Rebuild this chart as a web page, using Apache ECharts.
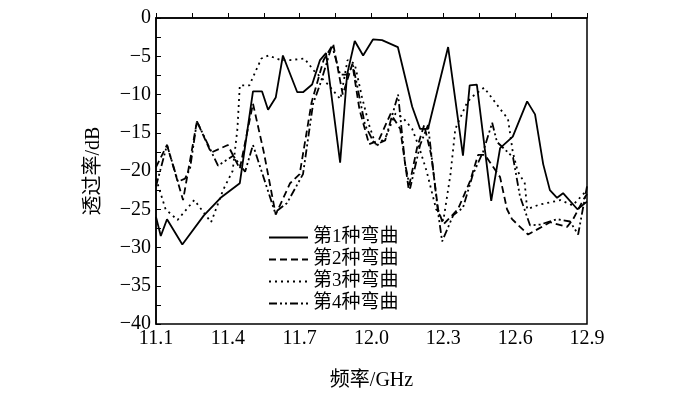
<!DOCTYPE html>
<html>
<head>
<meta charset="utf-8">
<title>透过率</title>
<script src="https://cdn.jsdelivr.net/npm/echarts@6/dist/echarts.min.js"></script>
<style>
  html, body { margin: 0; padding: 0; background: #fff; }
  #main { width: 700px; height: 396px; }
</style>
</head>
<body>
<div id="main"></div>
<script>
// 各曲线的频率点 (GHz) 与透过率 (dB)
var names = ['第1种弯曲', '第2种弯曲', '第3种弯曲', '第4种弯曲'];

var freq1 = [11.10, 11.12, 11.146, 11.21, 11.30, 11.37, 11.45, 11.505, 11.543, 11.568, 11.60, 11.63, 11.69, 11.714,
  11.752, 11.785, 11.81, 11.869, 11.898, 11.93, 11.965, 12.006, 12.044, 12.11, 12.17, 12.203, 12.236, 12.32, 12.382,
  12.41, 12.44, 12.50, 12.537, 12.59, 12.65, 12.683, 12.717, 12.745, 12.775, 12.80, 12.86, 12.90];
var db1 = [-26, -28.5, -26.3, -29.6, -25.8, -23.5, -21.6, -9.6, -9.6, -12, -10.4, -4.9, -9.7, -9.7,
  -8.7, -5.5, -4.6, -18.9, -7.4, -3, -4.9, -2.8, -2.9, -3.8, -11.6, -14.5, -14.5, -3.8, -18,
  -8.8, -8.7, -23.9, -17, -15.5, -10.9, -12.6, -19.1, -22.5, -23.5, -22.9, -25, -24];

var freq2 = [11.10, 11.146, 11.213, 11.271, 11.33, 11.40, 11.45, 11.505, 11.55, 11.60, 11.66, 11.70, 11.75, 11.80,
  11.84, 11.88, 11.92, 11.95, 11.99, 12.03, 12.08, 12.12, 12.155, 12.19, 12.22, 12.25, 12.278, 12.30, 12.361,
  12.412, 12.445, 12.474, 12.537, 12.566, 12.587, 12.654, 12.70, 12.746, 12.817, 12.842, 12.884, 12.90];
var db2 = [-19.5, -16.6, -23.8, -13.5, -17.6, -16.6, -19.7, -11.2, -17.5, -25.7, -21.6, -20.4, -11, -5.5,
  -3.4, -10, -6, -12, -16.5, -16, -12.5, -14.5, -22.3, -17, -14, -18, -25, -27, -25,
  -21.3, -17.9, -17.9, -20.8, -25, -26.3, -28.3, -27.5, -26.7, -27.3, -26.3, -23.8, -23];

var freq3 = [11.10, 11.14, 11.19, 11.26, 11.33, 11.38, 11.42, 11.44, 11.45, 11.49, 11.54, 11.57, 11.62, 11.66,
  11.72, 11.76, 11.81, 11.87, 11.90, 11.93, 11.96, 11.99, 12.02, 12.06, 12.10, 12.13, 12.17, 12.20, 12.23,
  12.27, 12.30, 12.33, 12.35, 12.40, 12.42, 12.47, 12.54, 12.57, 12.59, 12.61, 12.64, 12.65, 12.70, 12.79,
  12.84, 12.90];
var db3 = [-21, -25, -26.4, -23.8, -26.7, -22.5, -20, -14.5, -8.8, -8.8, -5.3, -4.9, -5.5, -5.5,
  -5.3, -6.9, -8.4, -10.6, -5.5, -6, -10.3, -14, -16.8, -15.5, -12.5, -13, -14.5, -17, -20,
  -25, -26.5, -20.4, -14.5, -11, -10.3, -9.1, -12, -13.2, -17.5, -20, -21.6, -25, -24.4, -23.8,
  -24.5, -22.5];

var freq4 = [11.10, 11.146, 11.192, 11.221, 11.242, 11.271, 11.359, 11.422, 11.472, 11.505, 11.597, 11.647, 11.714,
  11.756, 11.785, 11.835, 11.869, 11.898, 11.923, 11.973, 12.015, 12.057, 12.111, 12.14, 12.161, 12.203, 12.236,
  12.278, 12.295, 12.341, 12.382, 12.424, 12.466, 12.504, 12.524, 12.591, 12.62, 12.662, 12.704, 12.775, 12.829,
  12.863, 12.90];
var db4 = [-22, -16.6, -21.4, -21, -19.7, -13.5, -19.3, -18, -20.1, -16.6, -25.4, -24.2, -20.4,
  -11.2, -8.7, -3.6, -7.4, -7.4, -6.2, -14, -16.6, -16, -10, -19, -22.3, -16.6, -14,
  -25.4, -29.2, -25.8, -24.8, -20.4, -17.5, -13.7, -16.2, -18.2, -23.3, -27.1, -27, -26.3, -26.6,
  -28.3, -22];

function pairs(xs, ys) {
  var out = [];
  for (var i = 0; i < xs.length; i++) out.push([xs[i], ys[i]]);
  return out;
}

var fontFam = '"Liberation Serif", "Noto Sans CJK SC", serif';
var lineTypes = ['solid', [7, 4], [2, 4], [8, 3, 2, 3, 2, 3]];
var allData = [pairs(freq1, db1), pairs(freq2, db2), pairs(freq3, db3), pairs(freq4, db4)];

var chart = echarts.init(document.getElementById('main'));

var series = [];
for (var k = 0; k < 4; k++) {
  series.push({
    name: names[k],
    type: 'line',
    symbol: 'none',
    data: allData[k],
    lineStyle: { color: '#000', width: 1.8, type: lineTypes[k] },
    itemStyle: { color: '#000' }
  });
}

chart.setOption({
  animation: false,
  backgroundColor: '#fff',
  grid: {
    left: 156, right: 113, top: 18, bottom: 60,
    show: true, borderColor: '#000', borderWidth: 1.5, backgroundColor: 'transparent'
  },
  legend: {
    orient: 'vertical',
    left: 268, top: 228,
    padding: 0,
    itemGap: 3,
    itemWidth: 39,
    itemHeight: 14,
    itemStyle: { opacity: 0 },
    textStyle: { fontFamily: fontFam, fontSize: 19, color: '#000' },
    data: names
  },
  xAxis: {
    type: 'value',
    min: 11.1, max: 12.9, interval: 0.3,
    name: '频率/GHz',
    nameLocation: 'middle',
    nameGap: 47,
    nameTextStyle: { fontFamily: fontFam, fontSize: 20, color: '#000' },
    axisLine: { lineStyle: { color: '#000', width: 1.5 } },
    axisTick: { inside: true, length: 5, lineStyle: { color: '#000' } },
    minorTick: { show: true, splitNumber: 2, length: 5, lineStyle: { color: '#000' } },
    splitLine: { show: false },
    axisLabel: {
      margin: 5, fontFamily: fontFam, fontSize: 20, color: '#000',
      formatter: function (v) { return v.toFixed(1); }
    }
  },
  yAxis: {
    type: 'value',
    min: -40, max: 0, interval: 5,
    name: '透过率/dB',
    nameLocation: 'middle',
    nameGap: 52,
    nameTextStyle: { fontFamily: fontFam, fontSize: 20, color: '#000' },
    axisLine: { lineStyle: { color: '#000', width: 1.5 } },
    axisTick: { inside: true, length: 5, lineStyle: { color: '#000' } },
    minorTick: { show: true, splitNumber: 2, length: 5, lineStyle: { color: '#000' } },
    splitLine: { show: false },
    axisLabel: {
      margin: 5, fontFamily: fontFam, fontSize: 20, color: '#000',
      formatter: function (v) { return String(v).replace('-', '\u2212'); }
    }
  },
  series: series
});
</script>
</body>
</html>
